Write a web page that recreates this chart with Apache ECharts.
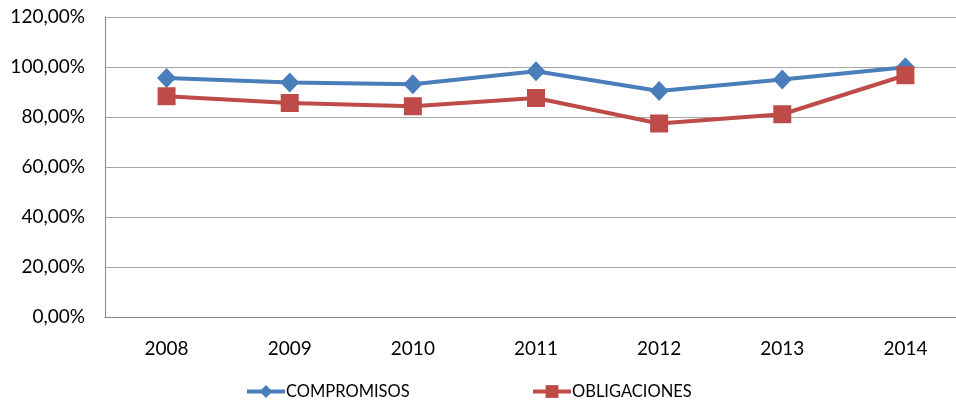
<!DOCTYPE html>
<html>
<head>
<meta charset="utf-8">
<script src="https://cdn.jsdelivr.net/npm/echarts@6/dist/echarts.min.js"></script>
<style>
  html, body { margin: 0; padding: 0; background: #fff; }
  #chart { width: 956px; height: 400px; }
</style>
</head>
<body>
<div id="chart"></div>
<script>
const years = ['2008', '2009', '2010', '2011', '2012', '2013', '2014'];
const compromisos = [95.6, 93.8, 93.1, 98.3, 90.4, 95.0, 99.9];
const obligaciones = [88.3, 85.6, 84.3, 87.6, 77.4, 81.1, 96.7];

const fmtPct = (v) => v.toFixed(2).replace('.', ',') + '%';

const legendBase = {
  top: 383,
  padding: 0,
  itemWidth: 38,
  itemHeight: 16,
  lineStyle: { width: 4 },
  textStyle: { fontSize: 16.5, color: '#000', fontFamily: 'Lato', padding: [0, 0, 0, -4] }
};

const chart = echarts.init(document.getElementById('chart'));
chart.setOption({
  animation: false,
  textStyle: { fontFamily: 'Lato' },
  grid: { left: 105, width: 862, top: 17, bottom: 83, outerBoundsMode: 'none' },
  legend: [
    Object.assign({ left: 245, data: ['COMPROMISOS'] }, legendBase),
    Object.assign({ left: 531, data: ['OBLIGACIONES'] }, legendBase)
  ],
  xAxis: {
    type: 'category',
    data: years,
    axisTick: { show: false },
    axisLine: { lineStyle: { color: '#868686', width: 1 } },
    axisLabel: { color: '#000', fontSize: 19, margin: 22 }
  },
  yAxis: {
    type: 'value',
    min: 0,
    max: 120,
    interval: 20,
    axisLine: { show: true, lineStyle: { color: '#868686', width: 1 } },
    axisTick: { show: false },
    axisLabel: { color: '#000', fontSize: 19, margin: 20, formatter: fmtPct },
    splitLine: { lineStyle: { color: '#a6a6a6', width: 1 } }
  },
  series: [
    {
      name: 'COMPROMISOS',
      type: 'line',
      data: compromisos,
      symbol: 'diamond',
      symbolSize: [19, 20],
      lineStyle: { color: '#4a7ebb', width: 4 },
      itemStyle: { color: '#4a7ebb' }
    },
    {
      name: 'OBLIGACIONES',
      type: 'line',
      data: obligaciones,
      symbol: 'rect',
      symbolSize: 18,
      lineStyle: { color: '#be4b48', width: 4 },
      itemStyle: { color: '#be4b48' }
    }
  ]
});
</script>
</body>
</html>
